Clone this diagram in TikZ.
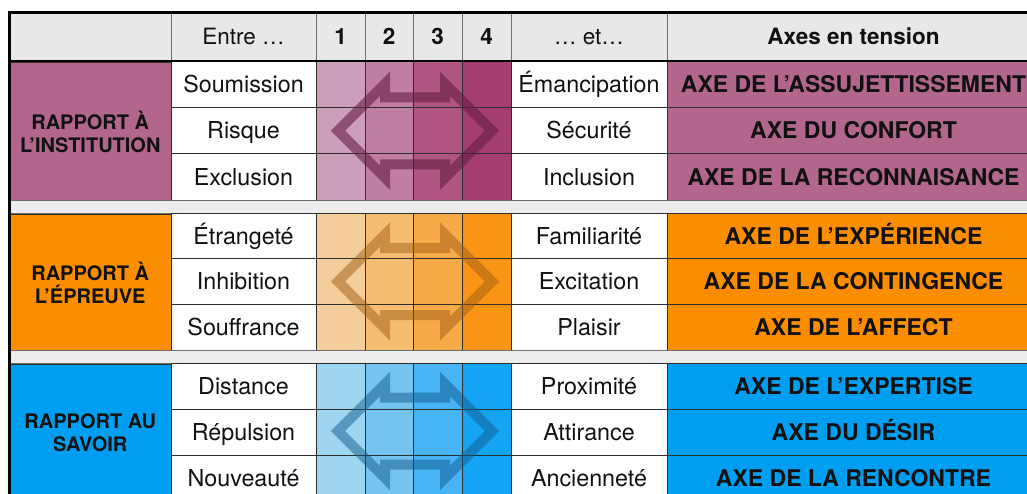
\documentclass[tikz,border=0pt]{standalone}
\usepackage{fontspec}
\setmainfont{TeX Gyre Heros}
\definecolor{hdr}{RGB}{232,232,232}
\definecolor{sepc}{RGB}{236,236,236}
\definecolor{gridc}{RGB}{45,45,45}
\definecolor{hgrid}{RGB}{110,110,110}
\definecolor{txt}{RGB}{17,17,17}
\definecolor{pum}{RGB}{178,102,140}
\definecolor{pua}{RGB}{205,158,185}
\definecolor{pub}{RGB}{192,127,161}
\definecolor{puc}{RGB}{176,85,127}
\definecolor{pud}{RGB}{165,62,110}
\definecolor{pux}{RGB}{100,30,65}
\definecolor{orm}{RGB}{251,142,0}
\definecolor{ora}{RGB}{244,205,155}
\definecolor{orb}{RGB}{245,189,112}
\definecolor{orc}{RGB}{247,171,72}
\definecolor{ord}{RGB}{250,148,20}
\definecolor{orx}{RGB}{160,95,20}
\definecolor{blm}{RGB}{0,158,240}
\definecolor{bla}{RGB}{158,214,242}
\definecolor{blb}{RGB}{117,196,240}
\definecolor{blc}{RGB}{70,180,245}
\definecolor{bld}{RGB}{20,165,245}
\definecolor{blx}{RGB}{20,90,140}
\tikzset{
  cell/.style={draw=gridc, line width=0.8pt, inner sep=0pt, anchor=center, text=txt,
    text height=16.8pt, text depth=0pt, font=\fontsize{23.3}{27}\selectfont},
  axiscell/.style={cell, text height=16.5pt, font=\bfseries\fontsize{23}{27}\selectfont},
  hcell/.style={cell, draw=hgrid, fill=hdr, minimum height=48.5pt, text height=16.2pt,
    font=\fontsize{22.5}{27}\selectfont},
  hbold/.style={font=\bfseries\fontsize{22.5}{27}\selectfont},
  catcell/.style={draw=gridc, line width=0.8pt, inner sep=0pt, anchor=center, text=txt,
    align=center, minimum width=161.5pt, font=\bfseries\fontsize{20}{23}\selectfont},
  sepband/.style={fill=sepc, draw=hgrid, line width=0.8pt},
  arrowline/.style={line width=10pt, line join=miter, miter limit=4},
  border/.style={draw=black, line width=3pt, line join=miter}
}
\newcommand\mkrow[7]{%
  \pgfmathsetmacro\myrowc{(#2+#3)/2}%
  \pgfmathsetmacro\myrowh{#3-#2}%
  \node[cell, fill=white, minimum width=145pt, minimum height=\myrowh pt] (#1-l) at (243.5,\myrowc) {#4};
  \node[cell, fill=#7a, minimum width=49pt, minimum height=\myrowh pt] (#1-1) at (340.5,\myrowc) {};
  \node[cell, fill=#7b, minimum width=48pt, minimum height=\myrowh pt] (#1-2) at (389,\myrowc) {};
  \node[cell, fill=#7c, minimum width=49pt, minimum height=\myrowh pt] (#1-3) at (437.5,\myrowc) {};
  \node[cell, fill=#7d, minimum width=49pt, minimum height=\myrowh pt] (#1-4) at (486.5,\myrowc) {};
  \node[cell, fill=white, minimum width=156pt, minimum height=\myrowh pt] (#1-r) at (589,\myrowc) {#5};
  \node[axiscell, fill=#7m, minimum width=373pt, minimum height=\myrowh pt] (#1-x) at (853.5,\myrowc) {#6};
}
\newcommand\mkarrow[3]{%
  \begin{scope}[shift={(415,#1)}]
    \draw[arrowline, draw=#2, draw opacity=#3]
      (-77,0) -- (-30,-47) -- (-30,-33.5) -- (30,-33.5) -- (30,-47) -- (77,0)
      -- (30,47) -- (30,33.5) -- (-30,33.5) -- (-30,47) -- cycle;
  \end{scope}
}
\begin{document}
\begin{tikzpicture}[x=1pt,y=-1pt]
\useasboundingbox (0,0) rectangle (1027,494);
\fill[white] (0,0) rectangle (1027,494);
\clip (0,0) rectangle (1027,494);

% header
\node[hcell, minimum width=161.5pt] (h0) at (90.25,36.75) {};
\node[hcell, minimum width=145pt] (hentre) at (243.5,36.75) {Entre …};
\node[hcell, hbold, minimum width=49pt] (h1) at (340.5,36.75) {1};
\node[hcell, hbold, minimum width=48pt] (h2) at (389,36.75) {2};
\node[hcell, hbold, minimum width=49pt] (h3) at (437.5,36.75) {3};
\node[hcell, hbold, minimum width=49pt] (h4) at (486.5,36.75) {4};
\node[hcell, minimum width=156pt] (het) at (589,36.75) {… et…};
\node[hcell, hbold, minimum width=373pt] (hax) at (853.5,36.75) {Axes en tension};

% group 1
\node[catcell, fill=pum, minimum height=139pt] (cat1) at (90.25,131.5) {RAPPORT À\\L’INSTITUTION};
\mkrow{r1}{61}{107.3}{Soumission}{Émancipation}{AXE DE L’ASSUJETTISSEMENT}{pu}
\mkrow{r2}{107.3}{153.7}{Risque}{Sécurité}{AXE DU CONFORT}{pu}
\mkrow{r3}{153.7}{200}{Exclusion}{Inclusion}{AXE DE LA RECONNAISANCE}{pu}
\mkarrow{130.8}{pux}{0.6}

\draw[sepband] (9.5,200) rectangle (1040,213);

% group 2
\node[catcell, fill=orm, minimum height=137pt] (cat2) at (90.25,282.5) {RAPPORT À\\L’ÉPREUVE};
\mkrow{r4}{213}{258.7}{Étrangeté}{Familiarité}{AXE DE L’EXPÉRIENCE}{or}
\mkrow{r5}{258.7}{304.3}{Inhibition}{Excitation}{AXE DE LA CONTINGENCE}{or}
\mkrow{r6}{304.3}{350}{Souffrance}{Plaisir}{AXE DE L’AFFECT}{or}
\mkarrow{281.5}{orx}{0.5}

\draw[sepband] (9.5,350) rectangle (1040,363);

% group 3
\node[catcell, fill=blm, minimum height=138pt] (cat3) at (90.25,433) {RAPPORT AU\\SAVOIR};
\mkrow{r7}{363}{409}{Distance}{Proximité}{AXE DE L’EXPERTISE}{bl}
\mkrow{r8}{409}{455}{Répulsion}{Attirance}{AXE DU DÉSIR}{bl}
\mkrow{r9}{455}{501}{Nouveauté}{Ancienneté}{AXE DE LA RENCONTRE}{bl}
\mkarrow{431}{blx}{0.5}

% borders
\draw[line width=2.5pt, black] (9.5,61) -- (1040,61);
\draw[border] (9.5,510) -- (9.5,12.5) -- (1040,12.5);
\end{tikzpicture}
\end{document}
